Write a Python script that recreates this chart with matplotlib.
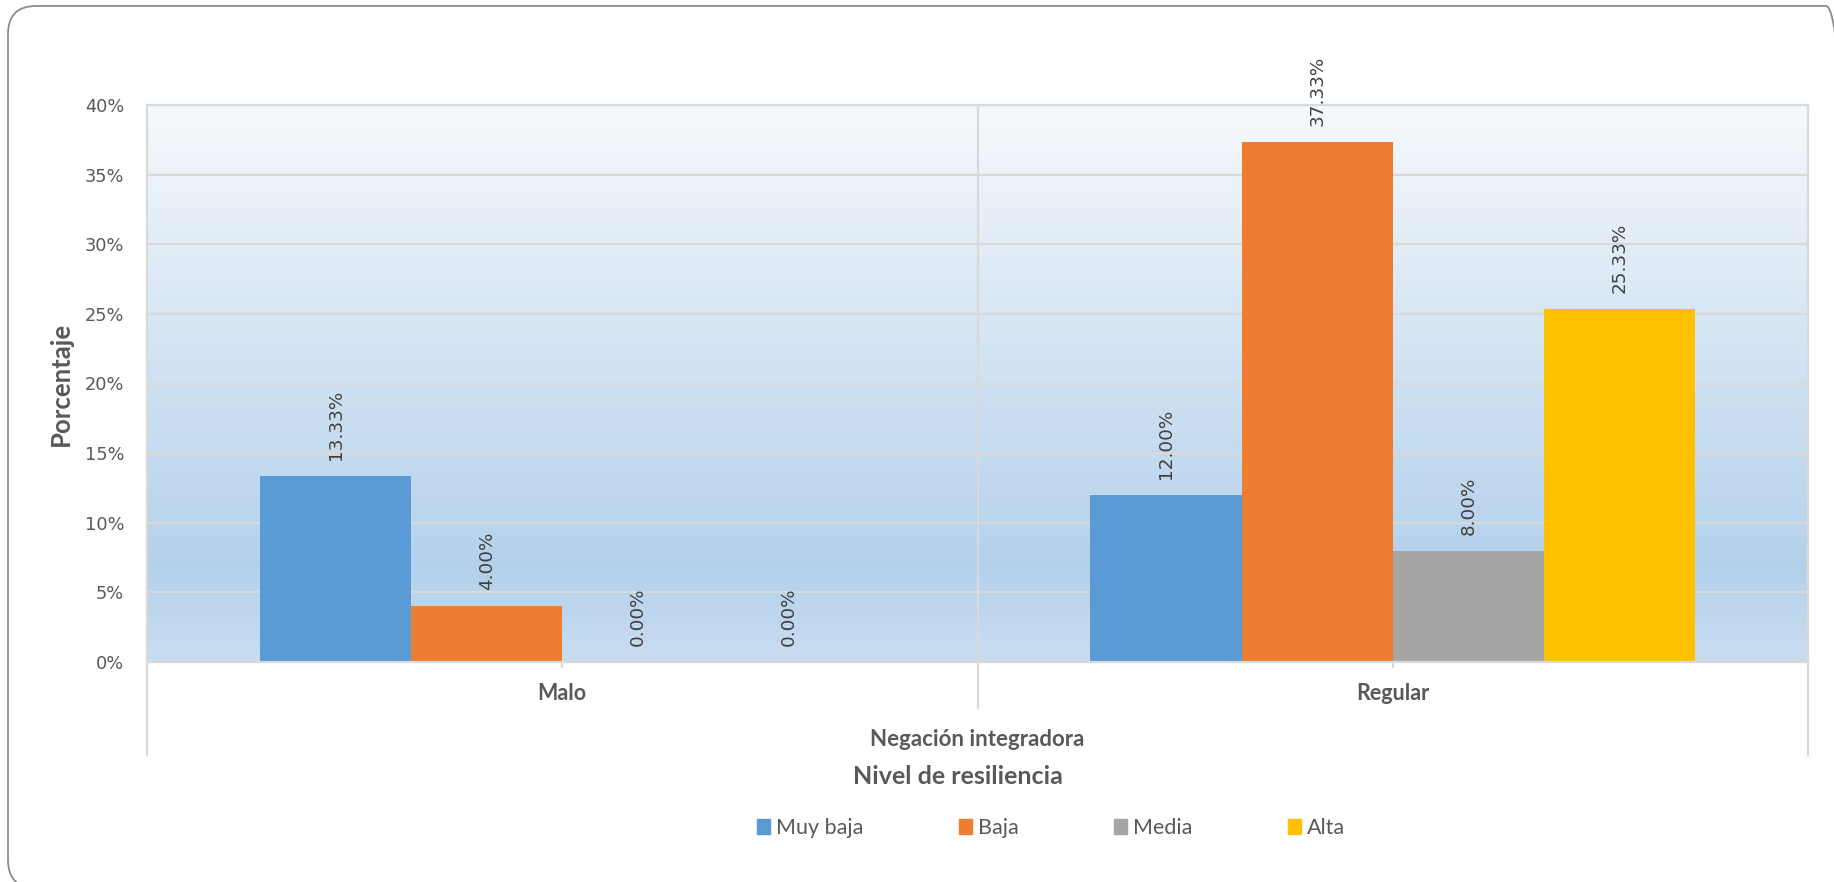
import numpy as np
import matplotlib
matplotlib.use("Agg")
import matplotlib.pyplot as plt
from matplotlib.patches import Rectangle, FancyBboxPatch
from matplotlib.colors import LinearSegmentedColormap
from matplotlib.transforms import IdentityTransform, blended_transform_factory

# ---- data ----
categories = ["Malo", "Regular"]
group_title = "Negación integradora"
series_names = ["Muy baja", "Baja", "Media", "Alta"]
muy_baja = [13.33, 12.00]
baja = [4.00, 37.33]
media = [0.00, 8.00]
alta = [0.00, 25.33]
series_values = [muy_baja, baja, media, alta]
series_colors = ["#5B9BD5", "#ED7D31", "#A5A5A5", "#FFC000"]
y_ticks = [0, 5, 10, 15, 20, 25, 30, 35, 40]

TXT = "#595959"
GRID = "#D9D9D9"
W, H = 1834, 882
fig = plt.figure(figsize=(W / 100, H / 100), dpi=100)
fig.patch.set_facecolor("white")

# axes placement (pixels from top-left)
ax_l, ax_r, ax_t, ax_b = 147, 1808, 105, 662
ax = fig.add_axes([ax_l / W, (H - ax_b) / H, (ax_r - ax_l) / W, (ax_b - ax_t) / H])

# gradient background
cmap = LinearSegmentedColormap.from_list(
    "bg", [(0.0, "#C9DDF1"), (0.17, "#B4D1EB"), (1.0, "#F6F9FC")])
grad = np.linspace(0, 1, 256).reshape(-1, 1)
ax.imshow(grad, cmap=cmap, origin="lower", aspect="auto",
          extent=[0, 1, 0, 1], transform=ax.transAxes, zorder=0)

x = np.arange(len(categories))
bw = 0.182
n = len(series_names)
for i, (name, vals, col) in enumerate(zip(series_names, series_values, series_colors)):
    offs = (i - (n - 1) / 2) * bw
    bars = ax.bar(x + offs, vals, bw, color=col, label=name, zorder=2, linewidth=0)
    ax.bar_label(bars, labels=[f"{v:.2f}%" for v in vals], rotation=90,
                 padding=11.5, fontsize=13.2, color="#404040",
                 fontfamily="DejaVu Sans")

ax.set_xlim(-0.5, len(categories) - 0.5)
ax.set_ylim(0, 40)
ax.set_yticks(y_ticks)
ax.set_yticklabels([f"{t}%" for t in y_ticks], fontsize=12.8, color=TXT,
                   fontfamily="DejaVu Sans")
ax.tick_params(axis="y", length=0, pad=16.5)
ax.set_axisbelow(True)
ax.yaxis.grid(True, color=GRID, linewidth=1.6)
for s in ax.spines.values():
    s.set_color(GRID)
    s.set_linewidth(1.6)

ax.set_xticks(x)
ax.set_xticklabels([])
ax.tick_params(axis="x", length=4.5, width=1.6, color=GRID)

tr = blended_transform_factory(ax.transData, ax.transAxes)
ph = ax_b - ax_t
def yfrac(py):
    return -(py - ax_b) / ph

# category separators / borders extending below axis
for xv in np.arange(-0.5, len(categories), 1.0):
    edge = xv in (-0.5, len(categories) - 0.5)
    ax.plot([xv, xv], [0, yfrac(755 if edge else 708)],
            transform=tr, color=GRID, linewidth=1.6, clip_on=False, zorder=1)
ax.plot([0.5, 0.5], [0, 1], transform=tr, color=GRID, linewidth=1.6, zorder=0.6)

for xi, c in zip(x, categories):
    ax.text(xi, yfrac(694), c, transform=tr, ha="center", va="center",
            fontsize=15.5, fontweight="bold", color=TXT, fontfamily="Lato")

fig.text(977 / W, (H - 740) / H, group_title, ha="center", va="center",
         fontsize=16, fontweight="bold", color=TXT, fontfamily="Lato")
fig.text(958 / W, (H - 776) / H, "Nivel de resiliencia", ha="center", va="center",
         fontsize=18, fontweight="bold", color=TXT, fontfamily="Lato")
fig.text(61 / W, (H - 384) / H, "Porcentaje", ha="center", va="center",
         rotation=90, fontsize=18.5, fontweight="bold", color=TXT, fontfamily="Lato")

handles = [Rectangle((0, 0), 1, 1, color=c) for c in series_colors]
leg = fig.legend(handles, series_names, ncol=4, loc="center",
                 bbox_to_anchor=(1051 / W, (H - 828) / H), frameon=False,
                 prop={"family": "Lato", "size": 15.5}, handlelength=0.6,
                 handleheight=0.65, handletextpad=0.28, columnspacing=4.45,
                 labelcolor=TXT, borderpad=0, borderaxespad=0)

# outer rounded border
border = FancyBboxPatch((8, -6), 1846, 882,
                        boxstyle="round,pad=0,rounding_size=28",
                        transform=IdentityTransform(), facecolor="none",
                        edgecolor="#8C8C8C", linewidth=1.3)
fig.add_artist(border)

fig.savefig("out.png", dpi=100)
